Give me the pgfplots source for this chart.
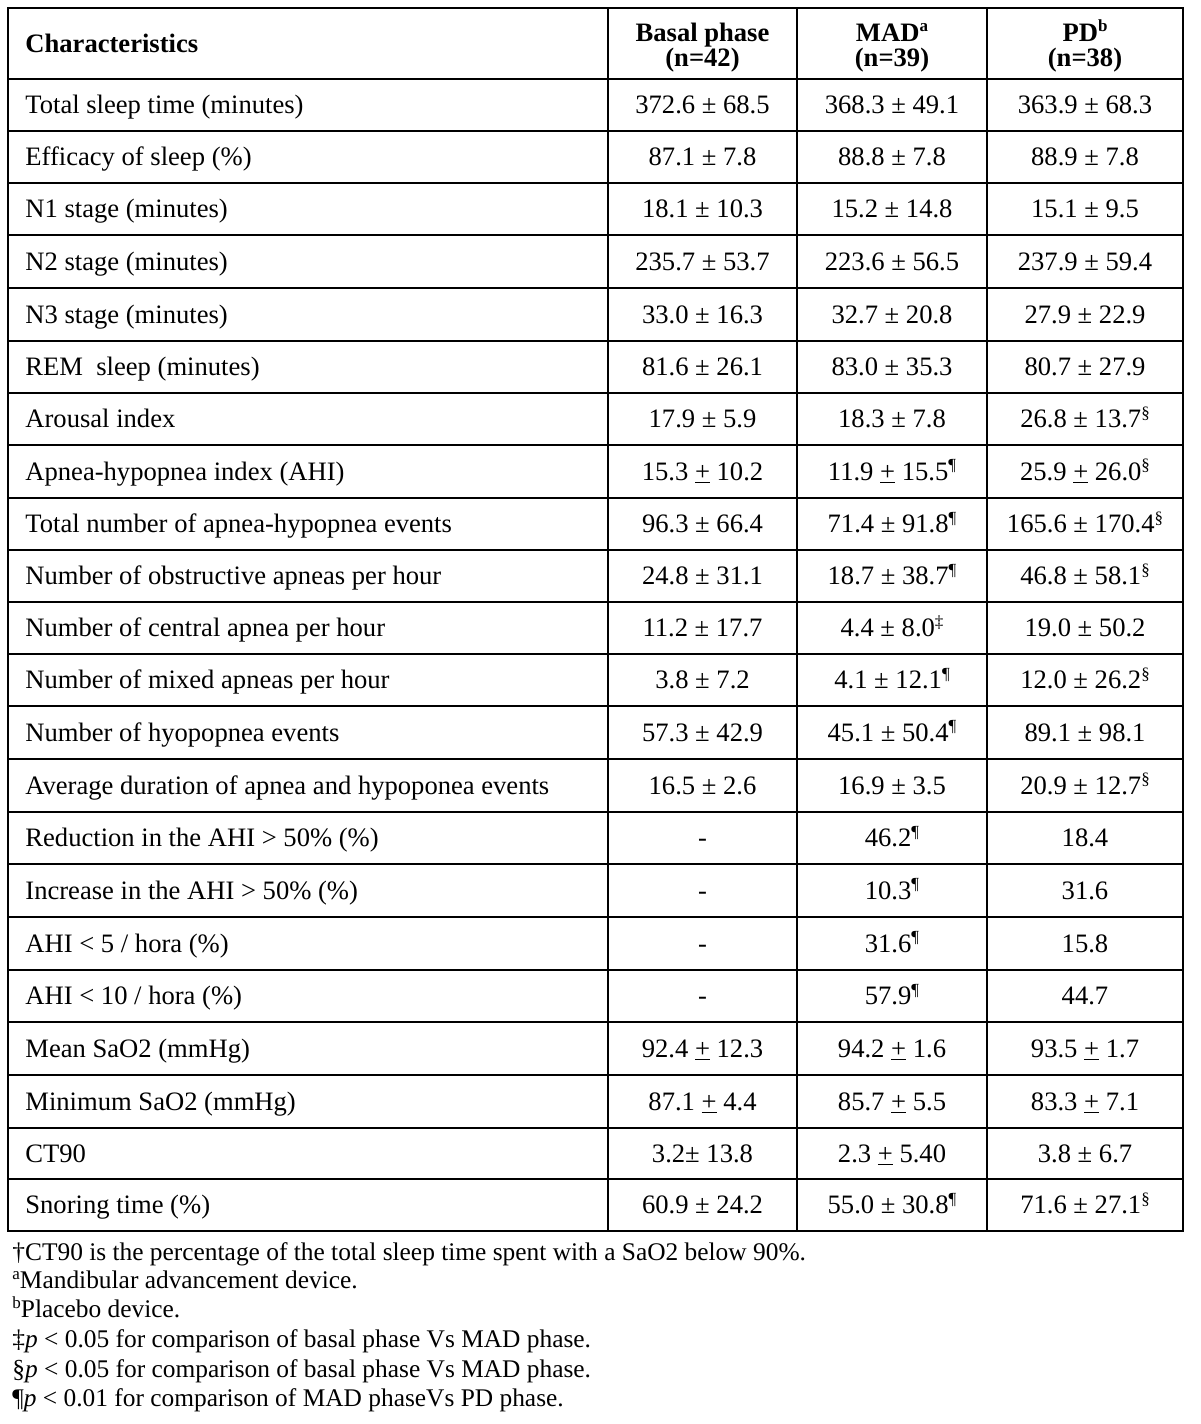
\documentclass[border=0pt]{standalone}
\usepackage{pgfplots}
\pgfplotsset{compat=1.18}
\usepackage{fontspec}
\setmainfont{Liberation Serif}
\newcommand\bodyfont{\fontsize{13.3}{15}\selectfont}
\newcommand\notefont{\fontsize{12.7}{14}\selectfont}
\newcommand\sx[1]{\raisebox{0.75ex}{\fontsize{8.5}{8.5}\selectfont #1}}
\newcommand\upm{\underline{+}}
\newcommand\trow[5]{%
  \node[anchor=base west] at (axis cs:25,#1+8.5) {#2};
  \node[anchor=base] at (axis cs:702.5,#1+8.5) {#3};
  \node[anchor=base] at (axis cs:892,#1+8.5) {#4};
  \node[anchor=base] at (axis cs:1085,#1+8.5) {#5};}
\newcommand\fnote[2]{\node[anchor=base west, font=\notefont] at (axis cs:12,#1+8) {#2};}
\begin{document}
\begin{tikzpicture}[font=\bodyfont, every node/.style={inner sep=0pt}]
\begin{axis}[scale only axis, width=600pt, height=712pt,
  xmin=0, xmax=1200, ymin=0, ymax=1424, y dir=reverse,
  hide axis, clip=false]
\path (axis cs:0,0) rectangle (axis cs:1200,1424);
% grid
\draw[line width=0.9pt] (axis cs:8,8) rectangle (axis cs:1183,1231);
\draw[line width=0.9pt] (axis cs:608,8) -- (axis cs:608,1231);
\draw[line width=0.9pt] (axis cs:797,8) -- (axis cs:797,1231);
\draw[line width=0.9pt] (axis cs:987,8) -- (axis cs:987,1231);
\draw[line width=0.9pt] (axis cs:8,79) -- (axis cs:1183,79);
\draw[line width=0.9pt] (axis cs:8,131) -- (axis cs:1183,131);
\draw[line width=0.9pt] (axis cs:8,183) -- (axis cs:1183,183);
\draw[line width=0.9pt] (axis cs:8,235) -- (axis cs:1183,235);
\draw[line width=0.9pt] (axis cs:8,288) -- (axis cs:1183,288);
\draw[line width=0.9pt] (axis cs:8,341) -- (axis cs:1183,341);
\draw[line width=0.9pt] (axis cs:8,393) -- (axis cs:1183,393);
\draw[line width=0.9pt] (axis cs:8,445) -- (axis cs:1183,445);
\draw[line width=0.9pt] (axis cs:8,498) -- (axis cs:1183,498);
\draw[line width=0.9pt] (axis cs:8,550) -- (axis cs:1183,550);
\draw[line width=0.9pt] (axis cs:8,602) -- (axis cs:1183,602);
\draw[line width=0.9pt] (axis cs:8,654) -- (axis cs:1183,654);
\draw[line width=0.9pt] (axis cs:8,706) -- (axis cs:1183,706);
\draw[line width=0.9pt] (axis cs:8,759) -- (axis cs:1183,759);
\draw[line width=0.9pt] (axis cs:8,812) -- (axis cs:1183,812);
\draw[line width=0.9pt] (axis cs:8,864) -- (axis cs:1183,864);
\draw[line width=0.9pt] (axis cs:8,917) -- (axis cs:1183,917);
\draw[line width=0.9pt] (axis cs:8,970) -- (axis cs:1183,970);
\draw[line width=0.9pt] (axis cs:8,1022) -- (axis cs:1183,1022);
\draw[line width=0.9pt] (axis cs:8,1075) -- (axis cs:1183,1075);
\draw[line width=0.9pt] (axis cs:8,1128) -- (axis cs:1183,1128);
\draw[line width=0.9pt] (axis cs:8,1179) -- (axis cs:1183,1179);
% header
\node[anchor=base west] at (axis cs:25,52) {\bfseries Characteristics};
\node[anchor=base] at (axis cs:702.5,41) {\bfseries Basal phase};
\node[anchor=base] at (axis cs:702.5,66) {\bfseries (n=42)};
\node[anchor=base] at (axis cs:892,41) {\bfseries MAD\sx{a}};
\node[anchor=base] at (axis cs:892,66) {\bfseries (n=39)};
\node[anchor=base] at (axis cs:1085,41) {\bfseries PD\sx{b}};
\node[anchor=base] at (axis cs:1085,66) {\bfseries (n=38)};
% body
\trow{105}{Total sleep time (minutes)}{372.6 ± 68.5}{368.3 ± 49.1}{363.9 ± 68.3}
\trow{157}{Efficacy of sleep (\%)}{87.1 ± 7.8}{88.8 ± 7.8}{88.9 ± 7.8}
\trow{209}{N1 stage (minutes)}{18.1 ± 10.3}{15.2 ± 14.8}{15.1 ± 9.5}
\trow{261.5}{N2 stage (minutes)}{235.7 ± 53.7}{223.6 ± 56.5}{237.9 ± 59.4}
\trow{314.5}{N3 stage (minutes)}{33.0 ± 16.3}{32.7 ± 20.8}{27.9 ± 22.9}
\trow{367}{REM\ \ sleep (minutes)}{81.6 ± 26.1}{83.0 ± 35.3}{80.7 ± 27.9}
\trow{419}{Arousal index}{17.9 ± 5.9}{18.3 ± 7.8}{26.8 ± 13.7\sx{§}}
\trow{471.5}{Apnea-hypopnea index (AHI)}{15.3 \upm{} 10.2}{11.9 \upm{} 15.5\sx{¶}}{25.9 \upm{} 26.0\sx{§}}
\trow{524}{Total number of apnea-hypopnea events}{96.3 ± 66.4}{71.4 ± 91.8\sx{¶}}{165.6 ± 170.4\sx{§}}
\trow{576}{Number of obstructive apneas per hour}{24.8 ± 31.1}{18.7 ± 38.7\sx{¶}}{46.8 ± 58.1\sx{§}}
\trow{628}{Number of central apnea per hour}{11.2 ± 17.7}{4.4 ± 8.0\sx{‡}}{19.0 ± 50.2}
\trow{680}{Number of mixed apneas per hour}{3.8 ± 7.2}{4.1 ± 12.1\sx{¶}}{12.0 ± 26.2\sx{§}}
\trow{732.5}{Number of hyopopnea events}{57.3 ± 42.9}{45.1 ± 50.4\sx{¶}}{89.1 ± 98.1}
\trow{785.5}{Average duration of apnea and hypoponea events}{16.5 ± 2.6}{16.9 ± 3.5}{20.9 ± 12.7\sx{§}}
\trow{838}{Reduction in the AHI > 50\% (\%)}{-}{46.2\sx{¶}}{18.4}
\trow{890.5}{Increase in the AHI > 50\% (\%)}{-}{10.3\sx{¶}}{31.6}
\trow{943.5}{AHI < 5 / hora (\%)}{-}{31.6\sx{¶}}{15.8}
\trow{996}{AHI < 10 / hora (\%)}{-}{57.9\sx{¶}}{44.7}
\trow{1048.5}{Mean SaO2 (mmHg)}{92.4 \upm{} 12.3}{94.2 \upm{} 1.6}{93.5 \upm{} 1.7}
\trow{1101.5}{Minimum SaO2 (mmHg)}{87.1 \upm{} 4.4}{85.7 \upm{} 5.5}{83.3 \upm{} 7.1}
\trow{1153.5}{CT90}{3.2± 13.8}{2.3 \upm{} 5.40}{3.8 ± 6.7}
\trow{1205}{Snoring time (\%)}{60.9 ± 24.2}{55.0 ± 30.8\sx{¶}}{71.6 ± 27.1\sx{§}}
% footnotes
\fnote{1252}{†CT90 is the percentage of the total sleep time spent with a SaO2 below 90\%.}
\fnote{1280}{\sx{a}Mandibular advancement device.}
\fnote{1309}{\sx{b}Placebo device.}
\fnote{1339}{‡\textit{p} < 0.05 for comparison of basal phase Vs MAD phase.}
\fnote{1369}{§\textit{p} < 0.05 for comparison of basal phase Vs MAD phase.}
\fnote{1398}{¶\textit{p} < 0.01 for comparison of MAD phaseVs PD phase.}
\end{axis}
\end{tikzpicture}
\end{document}
